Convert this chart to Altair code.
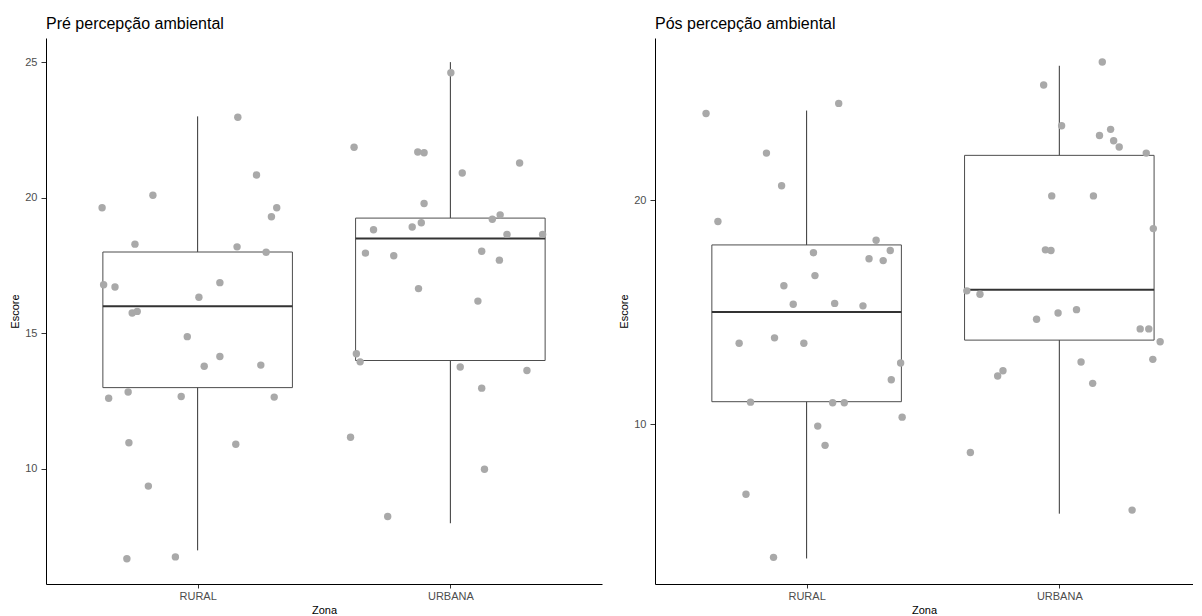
import altair as alt
import pandas as pd

# ---------------- data ----------------
zonas = ["RURAL", "URBANA"]
zona_pos = [1, 2]

# Pré percepção ambiental : box statistics per zone
pre_lower = [7, 8]
pre_q1 = [13, 14]
pre_median = [16, 18.5]
pre_q3 = [18, 19.25]
pre_upper = [23, 25]

# jittered points (x = jittered zone position, y = score)
pre_rural_x = [0.622, 0.823, 0.752, 1.159, 1.233, 1.313, 1.292, 1.156, 1.271, 0.628,
               0.673, 1.088, 1.005, 0.741, 0.761, 0.959, 1.088, 1.026, 1.250, 0.648,
               0.725, 0.935, 1.303, 0.728, 1.151, 0.805, 0.720, 0.912]
pre_rural_y = [19.63, 20.09, 18.29, 22.97, 20.84, 19.63, 19.30, 18.19, 17.99, 16.79,
               16.71, 16.87, 16.33, 15.75, 15.81, 14.88, 14.15, 13.79, 13.83, 12.61,
               12.84, 12.67, 12.65, 10.97, 10.91, 9.37, 6.69, 6.76]
pre_urbana_x = [2.002, 1.619, 1.871, 1.896, 2.274, 2.047, 1.896, 2.197, 2.166, 1.696,
                1.849, 1.885, 2.224, 2.365, 1.664, 1.776, 2.124, 2.194, 1.874, 2.109,
                1.628, 1.643, 2.039, 2.303, 2.124, 1.605, 2.135, 1.752]
pre_urbana_y = [24.61, 21.86, 21.69, 21.66, 21.28, 20.91, 19.79, 19.37, 19.21, 18.82,
                18.92, 19.08, 18.65, 18.65, 17.96, 17.86, 18.03, 17.70, 16.65, 16.19,
                14.25, 13.95, 13.76, 13.63, 12.98, 11.17, 9.99, 8.25]

# Pós percepção ambiental : box statistics per zone
pos_lower = [4, 6]
pos_q1 = [11, 13.75]
pos_median = [15, 16]
pos_q3 = [18, 22]
pos_upper = [24, 26]

pos_rural_x = [0.602, 1.127, 0.841, 0.901, 0.649, 1.275, 1.331, 1.027, 1.247, 1.303,
               1.033, 0.910, 0.947, 1.111, 1.223, 0.733, 0.873, 0.989, 1.372, 1.335,
               0.778, 1.103, 1.149, 1.378, 1.044, 1.073, 0.760, 0.869]
pos_rural_y = [23.87, 24.32, 22.10, 20.64, 19.05, 18.21, 17.75, 17.65, 17.38, 17.30,
               16.63, 16.18, 15.35, 15.39, 15.28, 13.61, 13.85, 13.61, 12.73, 11.98,
               10.98, 10.95, 10.95, 10.31, 9.91, 9.05, 6.87, 4.05]
pos_urbana_x = [2.170, 1.938, 2.009, 2.203, 2.159, 2.215, 2.237, 2.344, 1.970, 2.135,
                2.372, 1.945, 1.967, 1.634, 1.686, 1.910, 1.995, 2.068, 2.320, 2.354,
                2.399, 2.086, 2.370, 1.777, 1.756, 2.132, 1.648, 2.288]
pos_urbana_y = [26.17, 25.14, 23.32, 23.16, 22.89, 22.65, 22.37, 22.10, 20.19, 20.19,
                18.73, 17.78, 17.75, 15.95, 15.80, 14.68, 14.96, 15.11, 14.25, 14.25,
                13.68, 12.77, 12.89, 12.38, 12.15, 11.82, 8.73, 6.16]

# ---------------- styling ----------------
BOX_HALF = 0.375
FONT = "Liberation Sans"
PLOT_H = 546


def panel(title, lower, q1, med, q3, upper, rx, ry, ux, uy, ydomain, yticks, width, xmax):
    box = pd.DataFrame({"pos": zona_pos, "zona": zonas, "lower": lower, "q1": q1,
                        "median": med, "q3": q3, "upper": upper})
    box["left"] = box["pos"] - BOX_HALF
    box["right"] = box["pos"] + BOX_HALF
    pts = pd.DataFrame({"x": rx + ux, "y": ry + uy})

    xscale = alt.Scale(domain=[0.4, xmax], nice=False, zero=False)
    yscale = alt.Scale(domain=ydomain, nice=False, zero=False)
    xaxis = alt.Axis(title="Zona", values=[1, 2],
                     labelExpr="datum.value == 1 ? 'RURAL' : 'URBANA'",
                     tickSize=4, labelPadding=2, titlePadding=3)
    yaxis = alt.Axis(title="Escore", values=yticks, tickSize=5, labelPadding=4, titlePadding=4)

    whisk = alt.Chart(box).mark_rule(color="#333333", strokeWidth=1).encode(
        x=alt.X("pos:Q", scale=xscale, axis=xaxis),
        y=alt.Y("lower:Q", scale=yscale, axis=yaxis),
        y2="upper:Q",
    )
    rect = alt.Chart(box).mark_rect(fill="white", stroke="#4d4d4d", strokeWidth=1).encode(
        x=alt.X("left:Q", scale=xscale, axis=xaxis),
        x2="right:Q",
        y=alt.Y("q1:Q", scale=yscale, axis=yaxis),
        y2="q3:Q",
    )
    medline = alt.Chart(box).mark_rule(color="#333333", strokeWidth=2).encode(
        x=alt.X("left:Q", scale=xscale, axis=xaxis),
        x2="right:Q",
        y=alt.Y("median:Q", scale=yscale, axis=yaxis),
    )
    points = alt.Chart(pts).mark_circle(color="#a9a9a9", opacity=1, size=55).encode(
        x=alt.X("x:Q", scale=xscale, axis=xaxis),
        y=alt.Y("y:Q", scale=yscale, axis=yaxis),
    )
    return alt.layer(whisk, rect, medline, points).properties(
        width=width, height=PLOT_H,
        title=alt.TitleParams(title, anchor="start", frame="group", offset=6,
                              fontSize=16, font=FONT, fontWeight="normal", color="black"),
    )


left = panel("Pré percepção ambiental", pre_lower, pre_q1, pre_median, pre_q3, pre_upper,
             pre_rural_x, pre_rural_y, pre_urbana_x, pre_urbana_y,
             [5.76, 25.89], [10, 15, 20, 25], 556, 2.6)
right = panel("Pós percepção ambiental", pos_lower, pos_q1, pos_median, pos_q3, pos_upper,
              pos_rural_x, pos_rural_y, pos_urbana_x, pos_urbana_y,
              [2.86, 27.24], [10, 20], 538, 2.529)

chart = alt.hconcat(left, right, spacing=16).properties(
    padding={"left": 1, "top": 8, "right": 0, "bottom": 0}
).configure_view(stroke=None).configure_axis(
    grid=False,
    domainColor="black", domainWidth=1,
    tickColor="#333333", tickWidth=1,
    labelColor="#4d4d4d", labelFont=FONT, labelFontSize=11,
    titleColor="black", titleFont=FONT, titleFontSize=11, titleFontWeight="normal",
)

chart.save("out.html", embed_options={"renderer": "svg", "actions": False})
